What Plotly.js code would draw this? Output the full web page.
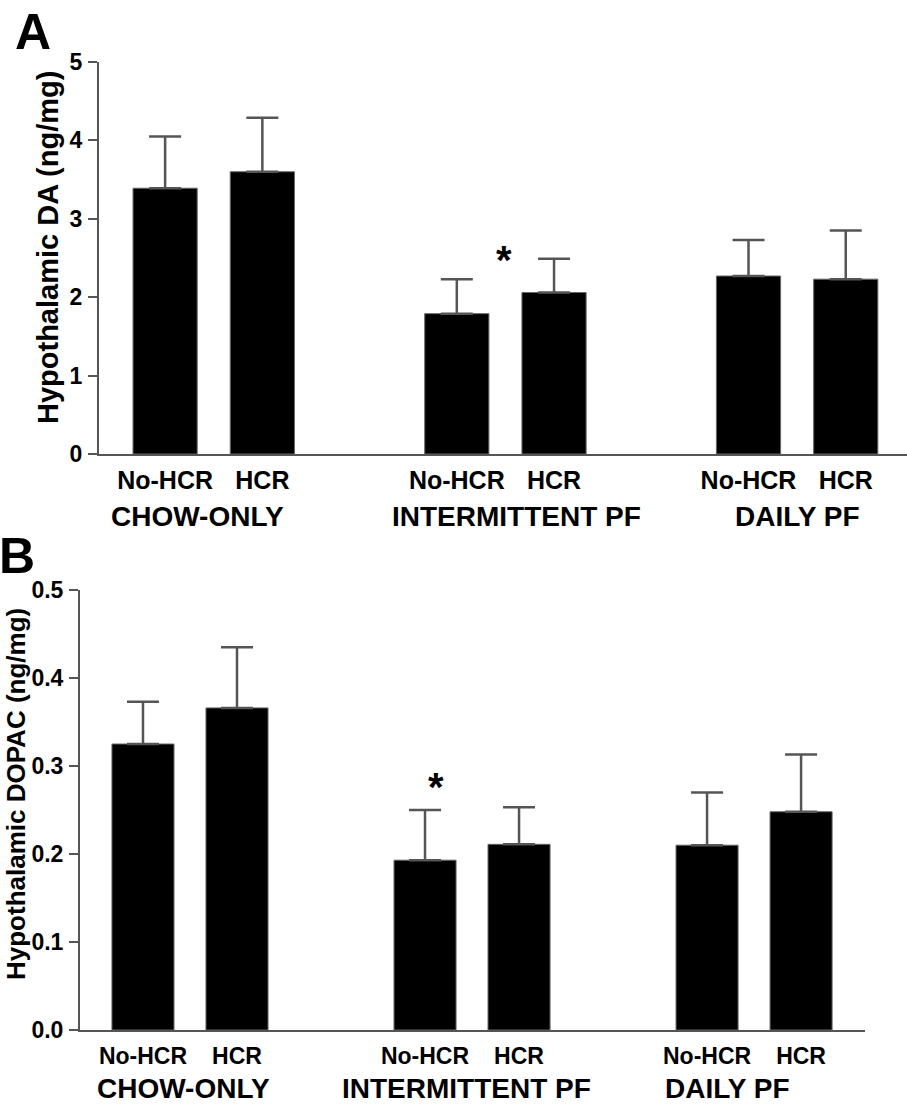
<!DOCTYPE html>
<html>
<head>
<meta charset="utf-8">
<script src="https://cdn.plot.ly/plotly-3.0.1.min.js"></script>
<style>html,body{margin:0;padding:0;background:#fff;}#chart{width:907px;height:1104px;}</style>
</head>
<body>
<div id="chart"></div>
<script>
// ---- data ----
const groups = ['CHOW-ONLY', 'INTERMITTENT PF', 'DAILY PF'];
const subgroups = ['No-HCR', 'HCR'];
const daMean = [3.39, 3.60, 1.79, 2.06, 2.27, 2.23];
const daSem = [0.66, 0.69, 0.44, 0.43, 0.46, 0.62];
const dopacMean = [0.325, 0.366, 0.193, 0.211, 0.210, 0.248];
const dopacSem = [0.048, 0.069, 0.057, 0.042, 0.060, 0.065];
const daTicks = [0, 1, 2, 3, 4, 5];
const dopacTicks = [0.0, 0.1, 0.2, 0.3, 0.4, 0.5];
const yTitleA = 'Hypothalamic DA (ng/mg)';
const yTitleB = 'Hypothalamic DOPAC (ng/mg)';

// ---- layout helpers ----
const W = 907, H = 1104;
const px = v => v / W;
const py = v => 1 - v / H;
const FONT = 'Liberation Sans, Arial, Helvetica, sans-serif';
const AX = '#555';

const xs = [], labels = [];
groups.forEach((g, gi) => subgroups.forEach((s, si) => { xs.push(gi * 3 + si); labels.push(s); }));

function barTrace(y, sem, xa, ya) {
  return {
    type: 'bar', x: xs, y: y, xaxis: xa, yaxis: ya, width: 0.66,
    marker: {color: '#000', line: {color: '#666', width: 1}},
    error_y: {type: 'data', symmetric: false, array: sem, arrayminus: sem.map(() => 0),
              color: AX, thickness: 2.5, width: 16},
    hoverinfo: 'none', showlegend: false
  };
}

const yCommon = {showline: true, linecolor: AX, linewidth: 2, ticks: 'outside', ticklen: 9,
  tickwidth: 2, tickcolor: AX, showgrid: false, zeroline: false, tickmode: 'array'};
const xCommon = {showline: true, linecolor: AX, linewidth: 2, ticks: '', showgrid: false,
  zeroline: false, tickmode: 'array', tickvals: xs, ticktext: labels};

const layout = {
  width: W, height: H, margin: {l: 0, r: 0, t: 0, b: 0},
  paper_bgcolor: '#fff', plot_bgcolor: 'rgba(0,0,0,0)',
  font: {family: FONT, color: '#000'},
  bargap: 0,
  xaxis: Object.assign({}, xCommon, {domain: [px(99), 1], range: [-0.68, 7.63], anchor: 'y',
    tickfont: {family: FONT, size: 25, weight: 'bold', color: '#000'}, ticklabelstandoff: 3}),
  yaxis: Object.assign({}, yCommon, {domain: [py(454), py(62)], range: [0, 5], anchor: 'x',
    tickvals: daTicks, ticktext: daTicks.map(v => v.toFixed(0)), ticklabelstandoff: 1,
    tickfont: {family: FONT, size: 23, weight: 'bold', color: '#000'}}),
  xaxis2: Object.assign({}, xCommon, {domain: [px(80), px(865)], range: [-0.67, 7.68], anchor: 'y2',
    tickfont: {family: FONT, size: 23, weight: 'bold', color: '#000'}, ticklabelstandoff: 4}),
  yaxis2: Object.assign({}, yCommon, {domain: [py(1030), py(590)], range: [0, 0.5], anchor: 'x2',
    tickvals: dopacTicks, ticktext: dopacTicks.map(v => v.toFixed(1)), ticklabelstandoff: 1,
    tickfont: {family: FONT, size: 23, weight: 'bold', color: '#000'}}),
  annotations: []
};

function txt(t, x, y, size, extra) {
  return Object.assign({text: t, xref: 'paper', yref: 'paper', x: px(x), y: py(y),
    xanchor: 'center', yanchor: 'middle', showarrow: false,
    font: {family: FONT, size: size, weight: 'bold', color: '#000'}}, extra || {});
}
// group labels
const gA = [197, 516, 797], gB = [183, 466, 727];
groups.forEach((g, i) => {
  layout.annotations.push(txt(g, gA[i], 516, 28));
  layout.annotations.push(txt(g, gB[i], 1088, 28));
});
// y titles
layout.annotations.push(txt(yTitleA, 48, 248, 29, {textangle: -90}));
layout.annotations.push(txt(yTitleB, 16, 794, 26, {textangle: -90}));
// panel letters
layout.annotations.push(txt('A', 33, 32, 50));
layout.annotations.push(txt('B', 17, 556, 50));
// significance asterisks
layout.annotations.push(txt('*', 504, 260, 40));
layout.annotations.push(txt('*', 436, 787, 40));

Plotly.newPlot('chart', [barTrace(daMean, daSem, 'x', 'y'), barTrace(dopacMean, dopacSem, 'x2', 'y2')],
  layout, {staticPlot: true, displayModeBar: false});
</script>
</body>
</html>
